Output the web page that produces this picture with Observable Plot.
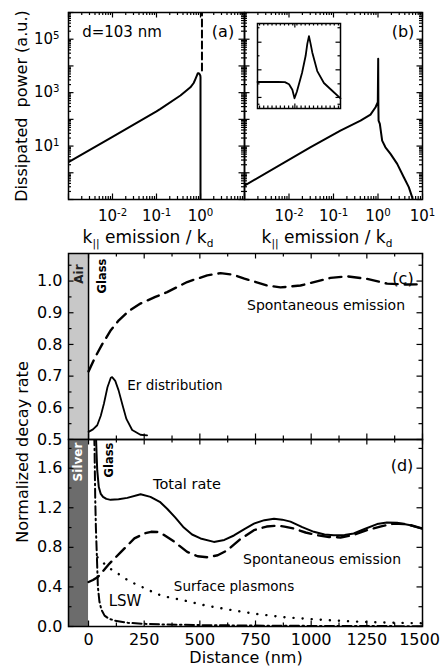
<!DOCTYPE html>
<html><head><meta charset="utf-8">
<script src="https://cdn.jsdelivr.net/npm/d3@7"></script>
<script src="https://cdn.jsdelivr.net/npm/@observablehq/plot@0.6"></script>
<style>
body{margin:0;background:#fff;}
#fig{position:relative;width:440px;height:669px;overflow:hidden;font-family:"DejaVu Sans",sans-serif;background:#fff;}
#fig svg{position:absolute;left:0;top:0;}
.lbl{position:absolute;white-space:nowrap;color:#000;line-height:1;}
.lbl sub{font-size:0.62em;vertical-align:-0.45em;line-height:0;}
</style></head><body><div id="fig"></div>
<script>
// ---------- data ----------
// (a) dissipated power, d = 103 nm
const aK = [0.001, 0.01, 0.1, 0.123, 0.35, 0.59, 0.7, 0.77, 0.83, 0.87, 0.92, 0.96, 0.99, 1.0, 1.0];
const aP = [2.5, 22, 200, 247, 780, 1585, 2300, 3290, 4400, 5330, 5300, 4800, 4370, 3800, 0.01];
const aGuideK = [1.08, 1.08];
const aGuideP = [6800, 2e6];
// (b)
const bK = [0.001, 0.03, 0.143, 0.405, 0.678, 0.88, 0.99, 1.01, 1.02, 1.03, 1.10, 1.24, 1.47, 1.91, 2.70, 3.80, 4.92, 5.87, 6.3];
const bP = [0.33, 9.0, 38, 90, 151, 284, 437, 18700, 300, 90, 68, 16, 9.0, 5.1, 2.15, 0.68, 0.29, 0.12, 0.05];
// (b) inset (arbitrary units)
const insetX = [0, 0.248, 0.33, 0.38, 0.42, 0.446, 0.475, 0.537, 0.58, 0.60, 0.62, 0.64, 0.66, 0.72, 0.80, 0.91, 1.0];
const insetY = [0.312, 0.312, 0.31, 0.285, 0.22, 0.12, 0.20, 0.42, 0.62, 0.76, 0.852, 0.76, 0.66, 0.44, 0.30, 0.20, 0.12];
// log tick labels
const abXLabelsA = [0.01, 0.1, 1];
const abXLabelsB = [0.01, 0.1, 1, 10];
const abYLabels = [10, 1000, 1e5];

// (c) air / glass interface
const cLayers = [{name: "Air", from: -90, to: 0}];
const cDist = [0, 30, 61, 100, 136, 180, 233, 300, 353, 443, 533, 593, 650, 700, 802, 862, 952, 1030, 1087, 1162, 1251, 1341, 1431, 1500];
const cSpont = [0.715, 0.76, 0.80, 0.845, 0.876, 0.905, 0.929, 0.95, 0.965, 0.997, 1.018, 1.025, 1.02, 1.008, 0.986, 0.98, 0.986, 1.0, 1.01, 1.015, 1.007, 0.992, 0.989, 0.99];
const erDist = [0, 20, 39, 55, 69, 85, 100, 106, 120, 135, 151, 170, 196, 233, 263];
const erVal = [0.524, 0.532, 0.545, 0.575, 0.613, 0.665, 0.695, 0.697, 0.685, 0.655, 0.613, 0.565, 0.53, 0.515, 0.513];
const cYLabels = [0.5, 0.6, 0.7, 0.8, 0.9, 1.0];

// (d) silver / glass interface
const dLayers = [{name: "Silver", from: -90, to: 0}];
const totDist = [30, 33, 36, 39, 46, 55, 65, 80, 99, 135, 174, 234, 278, 320, 353, 390, 428, 465, 503, 563, 610, 653, 700, 743, 790, 833, 870, 907, 960, 1012, 1060, 1102, 1150, 1191, 1240, 1296, 1340, 1386, 1440, 1500];
const totRate = [2.2, 1.95, 1.75, 1.58, 1.41, 1.34, 1.31, 1.29, 1.28, 1.285, 1.30, 1.336, 1.31, 1.26, 1.19, 1.1, 1.0, 0.93, 0.89, 0.855, 0.875, 0.92, 0.985, 1.04, 1.075, 1.09, 1.08, 1.06, 1.005, 0.957, 0.93, 0.923, 0.925, 0.94, 0.985, 1.035, 1.05, 1.048, 1.025, 0.99];
const spDist = [0, 20, 42, 94, 146, 206, 250, 281, 310, 341, 383, 443, 490, 533, 580, 623, 680, 743, 800, 848, 880, 922, 975, 1027, 1080, 1132, 1190, 1251, 1310, 1371, 1430, 1500];
const spRate = [0.45, 0.47, 0.50, 0.636, 0.754, 0.89, 0.94, 0.957, 0.955, 0.923, 0.86, 0.754, 0.71, 0.70, 0.72, 0.77, 0.88, 0.974, 1.01, 1.02, 1.01, 0.99, 0.95, 0.923, 0.905, 0.90, 0.925, 0.974, 1.01, 1.04, 1.035, 0.99];
const plDist = [40, 87, 132, 177, 222, 259, 304, 350, 428, 530, 653, 760, 878, 1000, 1102, 1250, 1400, 1500];
const plRate = [0.70, 0.60, 0.535, 0.467, 0.416, 0.382, 0.33, 0.30, 0.264, 0.21, 0.162, 0.125, 0.094, 0.075, 0.06, 0.045, 0.037, 0.032];
const lswDist = [24, 27, 30, 33, 37, 42, 49, 58, 72, 90, 117, 177, 252, 350, 500, 750, 1000, 1500];
const lswRate = [2.1, 1.8, 1.3, 1.0, 0.74, 0.40, 0.25, 0.17, 0.11, 0.08, 0.06, 0.037, 0.027, 0.02, 0.014, 0.009, 0.006, 0.003];
const dYLabels = [0, 0.4, 0.8, 1.2, 1.6];
const distLabels = [0, 250, 500, 750, 1000, 1250, 1500];

// ---------- layout ----------
const W = 440, H = 669;
const FONT = "'DejaVu Sans', sans-serif";
const FA = {left: 68, right: 244, top: 12, bottom: 199};
const FB = {left: 244, right: 422, top: 12, bottom: 199};
const FI = {left: 257, right: 340, top: 23, bottom: 108};
const FC = {left: 68, right: 422, top: 253, bottom: 439};
const FD = {left: 68, right: 422, top: 439, bottom: 626};
const margins = f => ({marginLeft: f.left, marginRight: W - f.right, marginTop: f.top, marginBottom: H - f.bottom});
const style = fs => `background:transparent;font-family:${FONT};font-size:${fs}px;overflow:visible;`;

function xTicks(f, values, len, top = true, bottom = true) {
  const h = f.bottom - f.top, out = [];
  if (bottom) out.push(Plot.tickX(values, {x: d => d, insetTop: h - len, stroke: "black", strokeWidth: 1.2}));
  if (top) out.push(Plot.tickX(values, {x: d => d, insetBottom: h - len, stroke: "black", strokeWidth: 1.2}));
  return out;
}
function yTicks(f, values, len, left = true, right = true) {
  const w = f.right - f.left, out = [];
  if (left) out.push(Plot.tickY(values, {y: d => d, insetRight: w - len, stroke: "black", strokeWidth: 1.2}));
  if (right) out.push(Plot.tickY(values, {y: d => d, insetLeft: w - len, stroke: "black", strokeWidth: 1.2}));
  return out;
}
function logMinor(lo, hi) {
  const out = [];
  for (let e = lo; e < hi; e++) for (let m = 2; m <= 9; m++) out.push(m * Math.pow(10, e));
  return out;
}
function logMajor(lo, hi) { return d3.range(lo, hi + 1).map(e => Math.pow(10, e)); }
const pow10 = d => "10^" + Math.round(Math.log10(d));
const table = (xs, ys) => xs.map((x, i) => ({x, y: ys[i]}));

const fig = document.getElementById("fig");

// ---------- (a) ----------
const plotA = Plot.plot({
  width: W, height: H, ...margins(FA), style: style(15),
  x: {type: "log", domain: [1e-3, 10]},
  y: {type: "log", domain: [0.1, 1e6]},
  marks: [
    ...xTicks(FA, logMinor(-3, 1), 3), ...xTicks(FA, logMajor(-3, 1), 5.5),
    ...yTicks(FA, logMinor(-1, 6), 3), ...yTicks(FA, logMajor(-1, 6), 5.5),
    Plot.axisX(abXLabelsA, {tickSize: 0, tickPadding: 11, tickFormat: pow10, label: null}),
    Plot.axisY(abYLabels, {tickSize: 0, tickPadding: 9, tickFormat: pow10, label: null}),
    Plot.line(table(aK, aP), {x: "x", y: "y", stroke: "black", strokeWidth: 2, clip: true}),
    Plot.line(table(aGuideK, aGuideP), {x: "x", y: "y", stroke: "black", strokeWidth: 2, strokeDasharray: "7,4", clip: true}),
    Plot.frame({stroke: "black", strokeWidth: 1.5})
  ]
});

// ---------- (b) ----------
const plotB = Plot.plot({
  width: W, height: H, ...margins(FB), style: style(15),
  x: {type: "log", domain: [1e-3, 10]},
  y: {type: "log", domain: [0.1, 1e6], axis: null},
  marks: [
    ...xTicks(FB, logMinor(-3, 1), 3), ...xTicks(FB, logMajor(-3, 1), 5.5),
    ...yTicks(FB, logMinor(-1, 6), 3), ...yTicks(FB, logMajor(-1, 6), 5.5),
    Plot.axisX(abXLabelsB, {tickSize: 0, tickPadding: 11, tickFormat: pow10, label: null}),
    Plot.line(table(bK, bP), {x: "x", y: "y", stroke: "black", strokeWidth: 2, clip: true}),
    Plot.frame({stroke: "black", strokeWidth: 1.5})
  ]
});

// ---------- inset ----------
const plotI = Plot.plot({
  width: W, height: H, ...margins(FI), style: style(10),
  x: {domain: [0, 1], axis: null},
  y: {domain: [0, 1], axis: null},
  marks: [
    ...xTicks(FI, d3.range(0.025, 1, 0.05), 2.5), ...xTicks(FI, [0.45], 4.5),
    ...yTicks(FI, [0.05, 0.29, 0.62, 0.95], 2.5), ...yTicks(FI, [0.13, 0.455, 0.78], 4.5),
    Plot.line(table(insetX, insetY), {x: "x", y: "y", stroke: "black", strokeWidth: 1.8}),
    Plot.frame({stroke: "black", strokeWidth: 1.5})
  ]
});

// ---------- (c) ----------
const cY = [0.5, 1.087];
const plotC = Plot.plot({
  width: W, height: H, ...margins(FC), style: style(16),
  x: {domain: [-90, 1500], axis: null},
  y: {domain: cY},
  marks: [
    Plot.rect(cLayers, {x1: "from", x2: "to", y1: () => cY[0], y2: () => cY[1], fill: "#c8c8c8"}),
    Plot.ruleX([0], {stroke: "black", strokeWidth: 1.5}),
    ...xTicks(FC, d3.range(125, 1500, 250), 3.5), ...xTicks(FC, distLabels, 5.5),
    ...yTicks(FC, d3.range(0.55, 1.08, 0.1), 3.5), ...yTicks(FC, cYLabels, 5.5),
    Plot.axisY(cYLabels, {tickSize: 0, tickPadding: 6, tickFormat: d3.format(".1f"), label: null}),
    Plot.line(table(cDist, cSpont), {x: "x", y: "y", stroke: "black", strokeWidth: 2.4, strokeDasharray: "12,7", clip: true}),
    Plot.line(table(erDist, erVal), {x: "x", y: "y", stroke: "black", strokeWidth: 1.8, clip: true}),
    Plot.frame({stroke: "black", strokeWidth: 1.5})
  ]
});

// ---------- (d) ----------
const dY = [0, 1.89];
const plotD = Plot.plot({
  width: W, height: H, ...margins(FD), style: style(16),
  x: {domain: [-90, 1500]},
  y: {domain: dY},
  marks: [
    Plot.rect(dLayers, {x1: "from", x2: "to", y1: () => dY[0], y2: () => dY[1], fill: "#6c6c6c"}),
    ...xTicks(FD, d3.range(125, 1500, 250), 3.5), ...xTicks(FD, distLabels, 5.5),
    ...yTicks(FD, [0.2, 0.6, 1.0, 1.4, 1.8], 3.5), ...yTicks(FD, dYLabels, 5.5),
    Plot.axisX(distLabels.slice(0, -1), {tickSize: 0, tickPadding: 7, tickFormat: d => String(d), label: null}),
    Plot.axisX(distLabels.slice(-1), {tickSize: 0, tickPadding: 7, tickFormat: d => String(d), label: null, dx: -3}),
    Plot.axisY(dYLabels, {tickSize: 0, tickPadding: 6, tickFormat: d3.format(".1f"), label: null}),
    Plot.line(table(plDist, plRate), {x: "x", y: "y", stroke: "black", strokeWidth: 2.4, strokeDasharray: "0.1,9", strokeLinecap: "round", clip: true}),
    Plot.line(table(lswDist, lswRate), {x: "x", y: "y", stroke: "black", strokeWidth: 2, strokeDasharray: "9,3.5,1.5,3.5", clip: true}),
    Plot.line(table(spDist, spRate), {x: "x", y: "y", stroke: "black", strokeWidth: 2.4, strokeDasharray: "12,7", clip: true}),
    Plot.line(table(totDist, totRate), {x: "x", y: "y", stroke: "black", strokeWidth: 2, clip: true}),
    Plot.frame({stroke: "black", strokeWidth: 1.5})
  ]
});

for (const p of [plotA, plotB, plotI, plotC, plotD]) fig.appendChild(p);

// superscripts for 10^n labels
for (const p of [plotA, plotB]) {
  d3.select(p).selectAll("text").each(function () {
    const m = this.textContent.match(/^10\^(.+)$/);
    if (m) {
      this.textContent = "";
      const s = d3.select(this);
      s.append("tspan").text("10");
      s.append("tspan").attr("dy", "-0.5em").attr("font-size", "0.68em").text(m[1]);
    }
  });
}

// ---------- text labels ----------
const labels = [
  {html: "d=103 nm", x: 122, y: 32, size: 15},
  {html: "(a)", x: 223, y: 32, size: 16},
  {html: "(b)", x: 403, y: 32, size: 16},
  {html: "Dissipated&nbsp; power (a.u.)", x: 22, y: 106, size: 16, rot: true},
  {html: "k<sub>||</sub> emission / k<sub>d</sub>", x: 148, y: 237, size: 17},
  {html: "k<sub>||</sub> emission / k<sub>d</sub>", x: 327, y: 237, size: 17},
  {html: "Air", x: 79, y: 274, size: 12, rot: true, bold: true, color: "#222"},
  {html: "Glass", x: 103, y: 276, size: 11.5, rot: true, bold: true},
  {html: "(c)", x: 403, y: 279, size: 16},
  {html: "Spontaneous emission", x: 326, y: 305, size: 14},
  {html: "Er distribution", x: 175, y: 386, size: 13.5},
  {html: "Normalized decay rate", x: 23, y: 452, size: 16, rot: true},
  {html: "Silver", x: 78, y: 462, size: 12, rot: true, bold: true, color: "#fff"},
  {html: "Glass", x: 110, y: 460, size: 11.5, rot: true, bold: true},
  {html: "(d)", x: 402, y: 466, size: 16},
  {html: "Total rate", x: 187, y: 484, size: 14.5},
  {html: "Spontaneous emission", x: 322, y: 559, size: 14},
  {html: "Surface plasmons", x: 234, y: 587, size: 13.5},
  {html: "LSW", x: 125, y: 601, size: 15},
  {html: "Distance (nm)", x: 246, y: 658, size: 16}
];
for (const L of labels) {
  const el = document.createElement("div");
  el.className = "lbl";
  el.innerHTML = L.html;
  el.style.left = L.x + "px";
  el.style.top = L.y + "px";
  el.style.fontSize = L.size + "px";
  el.style.transform = "translate(-50%,-50%)" + (L.rot ? " rotate(-90deg)" : "");
  if (L.bold) el.style.fontWeight = "bold";
  if (L.color) el.style.color = L.color;
  fig.appendChild(el);
}
</script></body></html>
